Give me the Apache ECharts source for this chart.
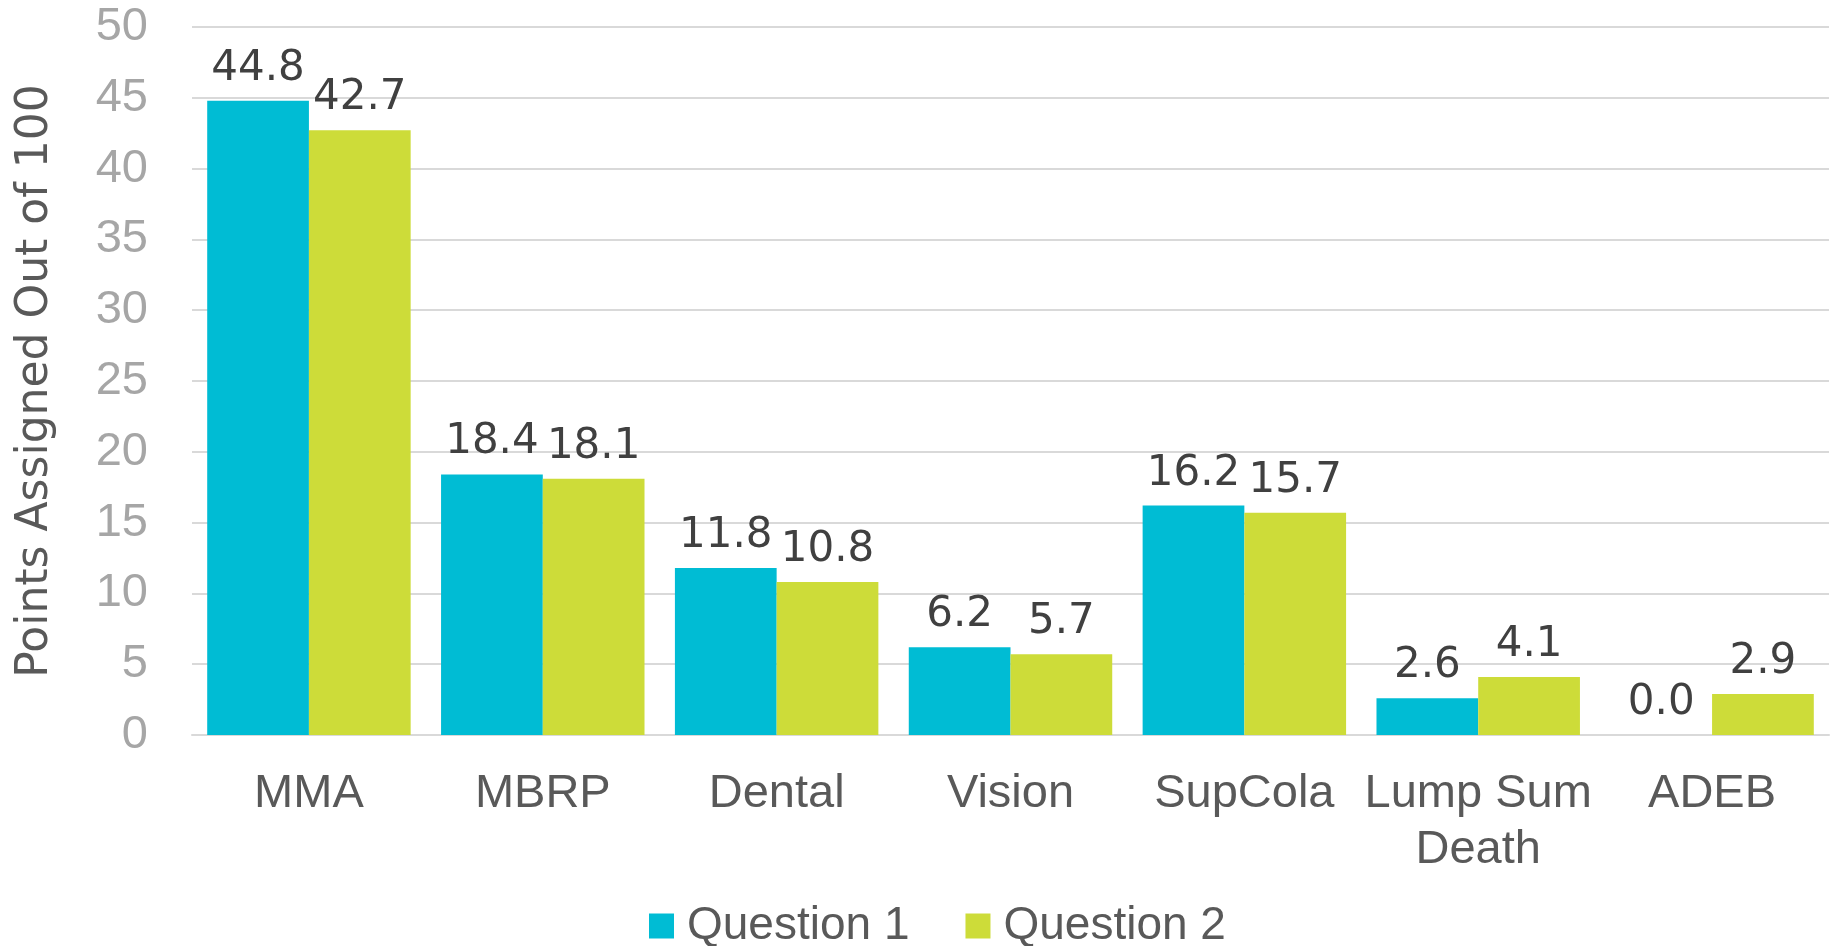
<!DOCTYPE html>
<html>
<head>
<meta charset="utf-8">
<title>Points Assigned</title>
<script src="https://cdn.jsdelivr.net/npm/echarts@6/dist/echarts.min.js"></script>
<style>
  html, body { margin: 0; padding: 0; background: #fff; }
  #chart { width: 1835px; height: 946px; }
</style>
</head>
<body>
<div id="chart"></div>
<script>
var categories = ['MMA', 'MBRP', 'Dental', 'Vision', 'SupCola', 'Lump Sum\nDeath', 'ADEB'];
var question1 = [44.8, 18.4, 11.8, 6.2, 16.2, 2.6, 0.0];
var question2 = [42.7, 18.1, 10.8, 5.7, 15.7, 4.1, 2.9];
var seriesNames = ['Question 1', 'Question 2'];

var chart = echarts.init(document.getElementById('chart'));

var labelStyle = {
  show: true,
  position: 'top',
  distance: 11,
  color: '#404040',
  fontFamily: 'DejaVu Sans',
  fontSize: 42,
  formatter: function (p) { return p.value.toFixed(1); }
};

var option = {
  animation: false,
  grid: { left: 192, right: 6, top: 27, bottom: 211 },
  legend: {
    bottom: -8,
    left: 644,
    itemWidth: 25,
    itemHeight: 25,
    itemGap: 56,
    icon: 'rect',
    data: seriesNames,
    textStyle: {
      color: '#595959',
      fontSize: 46,
      fontFamily: '"Liberation Sans", Arial',
      padding: [0, 0, 0, 8]
    }
  },
  xAxis: {
    type: 'category',
    data: categories,
    axisTick: { show: false },
    axisLine: { lineStyle: { color: '#d9d9d9', width: 2 } },
    axisLabel: {
      color: '#595959',
      fontSize: 47,
      fontFamily: '"Liberation Sans", Arial',
      lineHeight: 56,
      margin: 31,
      interval: 0
    }
  },
  yAxis: {
    type: 'value',
    min: 0,
    max: 50,
    interval: 5,
    name: 'Points Assigned Out of 100',
    nameLocation: 'middle',
    nameGap: 134,
    nameTextStyle: {
      color: '#595959',
      fontSize: 44,
      fontFamily: 'DejaVu Sans'
    },
    axisLine: { show: false },
    axisTick: { show: false },
    splitLine: { lineStyle: { color: '#d9d9d9', width: 2 } },
    axisLabel: {
      color: '#a6a6a6',
      fontSize: 47,
      fontFamily: '"Liberation Sans", Arial',
      margin: 44
    }
  },
  series: [
    {
      name: seriesNames[0],
      type: 'bar',
      data: question1,
      barGap: '0%',
      barCategoryGap: '13%',
      itemStyle: { color: '#00bcd4' },
      label: labelStyle
    },
    {
      name: seriesNames[1],
      type: 'bar',
      data: question2,
      barGap: '0%',
      barCategoryGap: '13%',
      itemStyle: { color: '#cddc39' },
      label: labelStyle
    }
  ]
};

chart.setOption(option);
window.onresize = chart.resize;
</script>
</body>
</html>
